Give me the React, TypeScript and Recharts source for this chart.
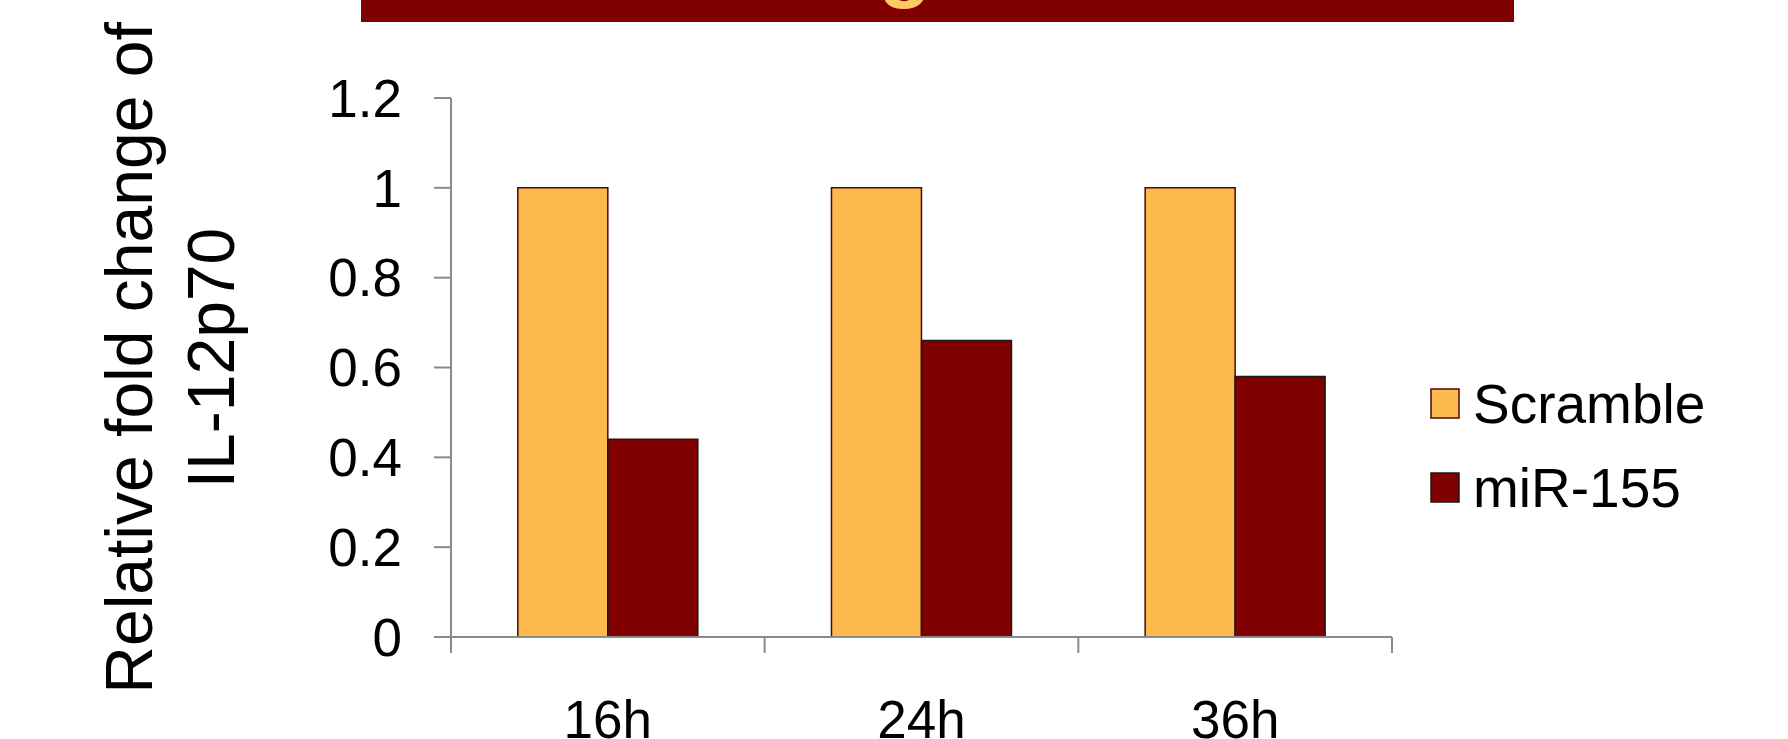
import type React from 'react';
import { BarChart, Bar, XAxis, YAxis, Legend } from 'recharts';

// time points and series values
const timePoints = ['16h', '24h', '36h'];
const scrambleValues = [1, 1, 1];
const mir155Values = [0.44, 0.66, 0.58];
const yTicks = [0, 0.2, 0.4, 0.6, 0.8, 1, 1.2];
const seriesNames = ['Scramble', 'miR-155'];
const yLabelLines = ['Relative fold change of', 'IL-12p70'];

const data = timePoints.map((t, i) => ({
  time: t,
  scramble: scrambleValues[i],
  mir155: mir155Values[i],
}));

const W = 1788;
const H = 739;
const MARGIN = { top: 98, right: 396, bottom: 22, left: 331 };
const Y_AXIS_W = 120;
const X_AXIS_H = 80;
const X_TICK_MARGIN = 63;
const BAND = (W - MARGIN.left - Y_AXIS_W - MARGIN.right) / timePoints.length;

const FONT = "Arial, 'Liberation Sans', sans-serif";
const AXIS_GREY = '#8a8a8a';
const YELLOW = '#FDB94E';
const MAROON = '#800000';

const XTick = (props: any) => {
  const { x, y, payload } = props;
  const half = BAND / 2;
  const axisY = y - X_TICK_MARGIN;
  const isLast = payload.value === timePoints[timePoints.length - 1];
  return (
    <g>
      <line x1={x - half} x2={x - half} y1={axisY} y2={axisY + 16} stroke={AXIS_GREY} strokeWidth={2} />
      {isLast && (
        <line x1={x + half} x2={x + half} y1={axisY} y2={axisY + 16} stroke={AXIS_GREY} strokeWidth={2} />
      )}
      <text x={x} y={y} dy="0.71em" textAnchor="middle" fontSize={53} fontFamily={FONT} fill="#000">
        {payload.value}
      </text>
    </g>
  );
};

const YLabel = () => (
  <g>
    {yLabelLines.map((line, i) => {
      const cx = 152 + i * 82;
      const cy = 358;
      return (
        <text
          key={line}
          x={cx}
          y={cy}
          transform={`rotate(-90, ${cx}, ${cy})`}
          textAnchor="middle"
          fontSize={66}
          fontFamily={FONT}
          fill="#000"
        >
          {line}
        </text>
      );
    })}
  </g>
);

const LegendContent = () => {
  const fills = [YELLOW, MAROON];
  const strokes = ['#4a0a0a', '#1a1a1a'];
  return (
    <svg width={330} height={170}>
      {seriesNames.map((name, i) => (
        <g key={name}>
          <rect x={1} y={9 + i * 84} width={28} height={29} fill={fills[i]} stroke={strokes[i]} strokeWidth={1.5} />
          <text x={43} y={43 + i * 84} fontSize={55} fontFamily={FONT} fill="#000">
            {name}
          </text>
        </g>
      ))}
    </svg>
  );
};

const App: React.FC = () => {
  return (
    <div style={{ position: 'absolute', left: 0, top: 0, width: W, height: H, background: '#fff', overflow: 'hidden' }}>
      <div
        style={{
          position: 'absolute',
          left: 361,
          top: 0,
          width: 1153,
          height: 22,
          background: MAROON,
        }}
      >
        <svg width={1153} height={22}>
          <text x={517} y={-9} fontSize={88} fontWeight="bold" fontFamily={FONT} fill="#FFC966">
            g
          </text>
        </svg>
      </div>
      <BarChart
        width={W}
        height={H}
        data={data}
        margin={MARGIN}
        barCategoryGap="21.3%"
        barGap={0}
        style={{ position: 'absolute', left: 0, top: 0 }}
      >
        <XAxis
          dataKey="time"
          height={X_AXIS_H}
          axisLine={{ stroke: AXIS_GREY, strokeWidth: 2 }}
          tickLine={false}
          tickSize={0}
          tickMargin={X_TICK_MARGIN}
          tick={<XTick />}
          interval={0}
        />
        <YAxis
          width={Y_AXIS_W}
          domain={[0, 1.2]}
          ticks={yTicks}
          interval={0}
          axisLine={{ stroke: AXIS_GREY, strokeWidth: 2 }}
          tickLine={{ stroke: AXIS_GREY, strokeWidth: 2 }}
          tickSize={17}
          tickMargin={32}
          tick={{ fontSize: 53, fontFamily: FONT, fill: '#000' }}
          label={{ content: <YLabel /> }}
        />
        <Legend
          layout="vertical"
          align="center"
          verticalAlign="middle"
          wrapperStyle={{ left: 1430, top: 380, width: 330 }}
          content={<LegendContent />}
        />
        <Bar dataKey="scramble" name={seriesNames[0]} fill={YELLOW} stroke="#4a0a0a" strokeWidth={1.5} isAnimationActive={false} />
        <Bar dataKey="mir155" name={seriesNames[1]} fill={MAROON} stroke="#1a1a1a" strokeWidth={1.5} isAnimationActive={false} />
      </BarChart>
    </div>
  );
};

export default App;
